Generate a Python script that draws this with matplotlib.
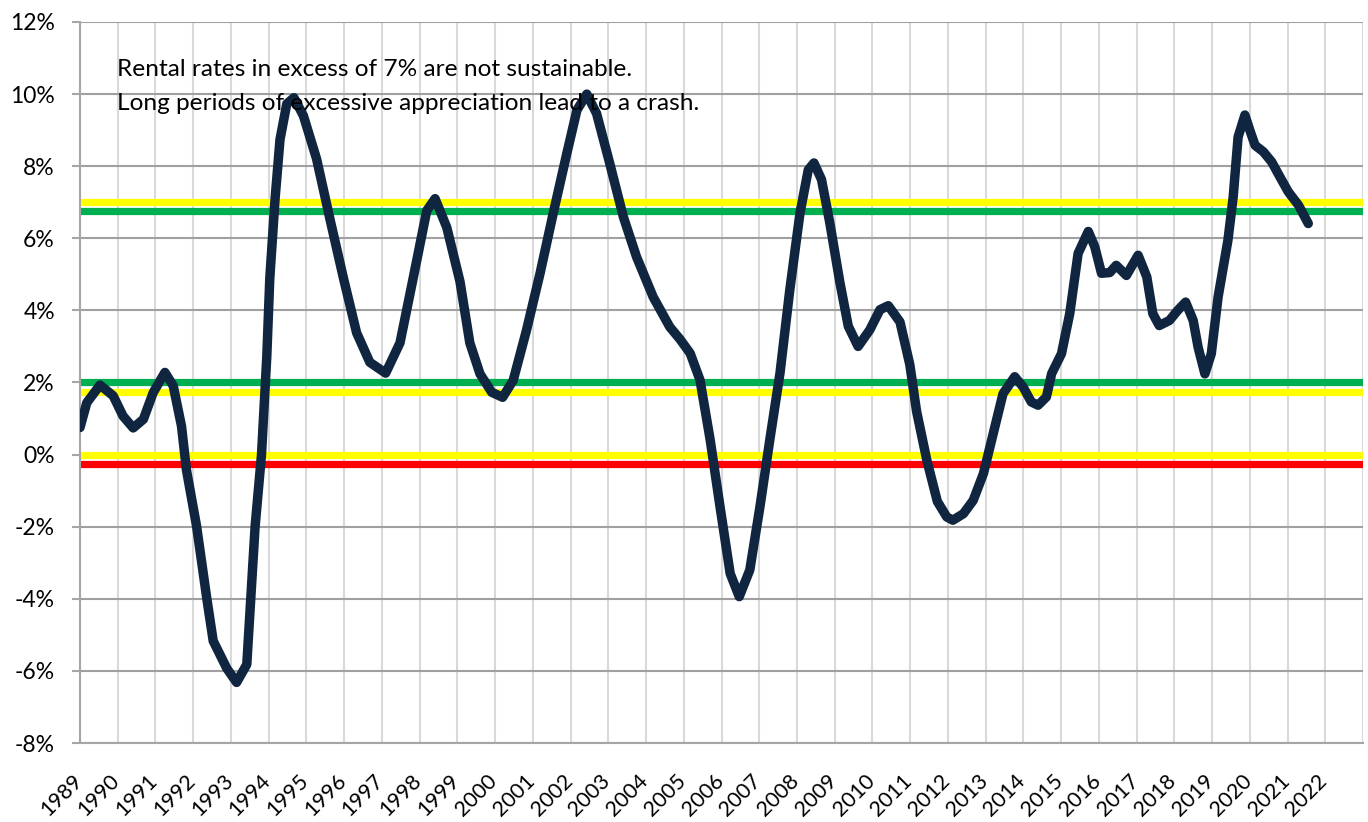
import matplotlib
matplotlib.use("Agg")
import matplotlib.pyplot as plt
import matplotlib.transforms as mtransforms

plt.rcParams['font.family'] = ['Lato', 'DejaVu Sans']

# ---- data (decimal year, % change) ----
years = [1989.00, 1989.18, 1989.53, 1989.88, 1990.14, 1990.41, 1990.68, 1990.94,
         1991.25, 1991.47, 1991.69, 1991.82, 1992.09, 1992.36, 1992.53, 1992.89,
         1993.15, 1993.42, 1993.64, 1993.81, 1993.95, 1994.03, 1994.17, 1994.30,
         1994.48, 1994.67, 1994.92, 1995.27, 1995.62, 1995.98, 1996.33, 1996.68,
         1997.10, 1997.48, 1997.83, 1998.19, 1998.41, 1998.72, 1999.07, 1999.33,
         1999.60, 1999.91, 2000.20, 2000.48, 2000.83, 2001.19, 2001.54, 2001.90,
         2002.17, 2002.43, 2002.69, 2003.04, 2003.40, 2003.75, 2004.19, 2004.63,
         2004.90, 2005.17, 2005.43, 2005.70, 2005.96, 2006.23, 2006.47, 2006.75,
         2007.02, 2007.28, 2007.55, 2007.81, 2008.08, 2008.30, 2008.45, 2008.65,
         2008.87, 2009.14, 2009.36, 2009.62, 2009.93, 2010.20, 2010.42, 2010.73,
         2010.99, 2011.17, 2011.44, 2011.72, 2011.97, 2012.13, 2012.41, 2012.67,
         2012.94, 2013.20, 2013.46, 2013.77, 2013.99, 2014.21, 2014.39, 2014.61,
         2014.75, 2015.01, 2015.23, 2015.45, 2015.72, 2015.89, 2016.07, 2016.29,
         2016.46, 2016.73, 2017.04, 2017.27, 2017.43, 2017.60, 2017.87, 2018.09,
         2018.30, 2018.50, 2018.63, 2018.81, 2018.98, 2019.16, 2019.42, 2019.56,
         2019.69, 2019.87, 2020.00, 2020.14, 2020.36, 2020.58, 2020.80, 2021.02,
         2021.29, 2021.55]
values = [0.75, 1.44, 1.93, 1.63, 1.07, 0.74, 0.98, 1.72,
          2.28, 1.91, 0.79, -0.42, -1.99, -3.99, -5.17, -5.93,
          -6.32, -5.82, -2.00, 0.00, 2.72, 4.90, 7.10, 8.74,
          9.73, 9.90, 9.40, 8.20, 6.55, 4.90, 3.38, 2.56,
          2.26, 3.10, 4.90, 6.77, 7.10, 6.30, 4.80, 3.10,
          2.24, 1.73, 1.59, 2.06, 3.44, 5.02, 6.69, 8.35,
          9.56, 10.00, 9.46, 8.07, 6.59, 5.48, 4.37, 3.54,
          3.20, 2.81, 2.07, 0.41, -1.44, -3.30, -3.94, -3.20,
          -1.44, 0.41, 2.26, 4.57, 6.70, 7.90, 8.09, 7.63,
          6.43, 4.76, 3.56, 3.00, 3.46, 4.02, 4.13, 3.68,
          2.50, 1.20, -0.15, -1.30, -1.73, -1.82, -1.64, -1.27,
          -0.53, 0.58, 1.69, 2.16, 1.88, 1.46, 1.37, 1.60,
          2.25, 2.80, 3.92, 5.58, 6.19, 5.77, 5.03, 5.05,
          5.25, 4.97, 5.53, 4.93, 3.91, 3.58, 3.72, 4.00,
          4.23, 3.72, 2.98, 2.24, 2.80, 4.37, 5.94, 7.15,
          8.81, 9.42, 9.00, 8.58, 8.40, 8.12, 7.70, 7.29,
          6.92, 6.41]

# threshold bands: (level %, colour)
threshold_levels = [7.0, 6.75, 2.0, 1.75, 0.0, -0.25]
threshold_colors = ['#FFFF00', '#00B050', '#00B050', '#FFFF00', '#FFFF00', '#FF0000']

year_ticks = list(range(1989, 2024))
year_labels = [str(y) for y in range(1989, 2023)] + ['']
y_ticks = list(range(-8, 13, 2))
y_labels = [f"{v}%" for v in y_ticks]

note_lines = ["Rental rates in excess of 7% are not sustainable.",
              "Long periods of excessive appreciation lead to a crash."]

# ---- figure ----
fig = plt.figure(figsize=(13.68, 8.22), dpi=100)
ax = fig.add_axes([80/1368, 1 - 743/822, (1363 - 80)/1368, (743 - 22)/822])

ax.set_xlim(1989, 2023)
ax.set_ylim(-8, 12)

ax.set_xticks(year_ticks)
ax.set_xticklabels(year_labels, rotation=45, ha='right', va='top', fontsize=15.5)
ax.set_yticks(y_ticks)
ax.set_yticklabels(y_labels, fontsize=16.5)

ax.tick_params(axis='x', length=0, pad=20)
ax.tick_params(axis='y', length=6, width=1.5, color='#A6A6A6', pad=12)

offset = mtransforms.ScaledTranslation(6/100, 0, fig.dpi_scale_trans)
for lbl in ax.get_xticklabels():
    lbl.set_transform(lbl.get_transform() + offset)

ax.grid(axis='x', color='#D9D9D9', linewidth=1.5, zorder=0)
ax.grid(axis='y', color='#A0A0A0', linewidth=1.5, zorder=0)
ax.set_axisbelow(True)

for s in ['top', 'right']:
    ax.spines[s].set_visible(False)
ax.spines['left'].set_color('#A6A6A6')
ax.spines['left'].set_linewidth(1.5)
ax.spines['bottom'].set_color('#A6A6A6')
ax.spines['bottom'].set_linewidth(1.5)

for lvl, col in zip(threshold_levels, threshold_colors):
    ax.axhline(lvl, color=col, linewidth=5.2, zorder=2)

ax.plot(years, values, color='#10253F', linewidth=6.8, zorder=3,
        solid_joinstyle='round', solid_capstyle='round')

ax.text(117/1368, 1 - 70/822, note_lines[0], transform=fig.transFigure,
        fontsize=17.6, va='center', ha='left', zorder=5)
ax.text(117/1368, 1 - 103/822, note_lines[1], transform=fig.transFigure,
        fontsize=17.6, va='center', ha='left', zorder=5)

fig.savefig('out.png', dpi=100)
